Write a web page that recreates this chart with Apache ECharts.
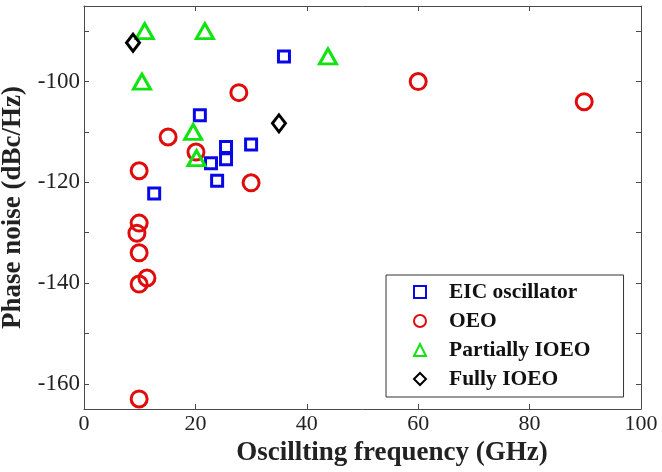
<!DOCTYPE html>
<html>
<head>
<meta charset="utf-8">
<script src="https://cdn.jsdelivr.net/npm/echarts@6/dist/echarts.min.js"></script>
<style>html,body{margin:0;padding:0;background:#fff;}#c{width:662px;height:472px;}</style>
</head>
<body>
<div id="c"></div>
<script>
const xTicks = [0, 20, 40, 60, 80, 100];
const yTickMarks = [-160, -150, -140, -130, -120, -110, -100, -90];
const yTickLabels = [-160, -140, -120, -100];

const eicOscillator = [[35.9, -95], [20.8, -106.7], [25.5, -113], [25.5, -115.4], [22.8, -116.2], [30, -112.5], [23.9, -119.7], [12.6, -122.2]];
const oeo = [[27.8, -102.2], [15.1, -111], [20.1, -114], [9.9, -117.7], [30, -120.1], [60, -100], [89.8, -104], [9.9, -128.1], [9.5, -130.1], [9.9, -134], [11.3, -139], [9.9, -140.2], [9.9, -163]];
const partiallyIOEO = [[10.9, -90], [21.7, -90], [43.8, -95], [10.4, -100], [19.6, -110], [20.2, -115.2]];
const fullyIOEO = [[8.8, -92.3], [35, -108.3]];

const serif = '"Liberation Serif", "Times New Roman", serif';
const axisColor = '#4a4a4a';

const chart = echarts.init(document.getElementById('c'));
function mk(name, data, symbol, size, color) {
  return {
    name, type: 'scatter', data, symbol, symbolSize: size,
    itemStyle: { color: 'rgba(0,0,0,0)', borderColor: color, borderWidth: 3, opacity: 1 },
    emphasis: { disabled: true }
  };
}
chart.setOption({
  animation: false,
  backgroundColor: '#fff',
  grid: { left: 84, right: 21, top: 6, bottom: 63, containLabel: false, outerBoundsMode: 'none' },
  legend: {
    orient: 'vertical', left: 386, top: 275,
    padding: [6, 33, 7, 27],
    borderColor: '#333', borderWidth: 1, backgroundColor: '#fff',
    itemWidth: 12, itemHeight: 12, itemGap: 7,
    textStyle: { fontFamily: serif, fontWeight: 'bold', fontSize: 21.5, color: '#111', lineHeight: 21, padding: [0, 0, 0, 18] },
    data: ['EIC oscillator', 'OEO', 'Partially IOEO', 'Fully IOEO']
  },
  xAxis: [{
    type: 'value', min: 0, max: 100, interval: 20,
    name: 'Oscillting frequency (GHz)', nameLocation: 'middle', nameGap: 23,
    nameTextStyle: { fontFamily: serif, fontWeight: 'bold', fontSize: 27, color: '#222', padding: [0, 0, 0, 59] },
    axisLine: { show: true, lineStyle: { color: axisColor, width: 1 } },
    axisTick: { show: true, inside: true, length: 5, lineStyle: { color: axisColor } },
    axisLabel: { fontFamily: serif, fontSize: 22, color: '#222', margin: 4 },
    splitLine: { show: false }
  }, {
    type: 'value', min: 0, max: 100, interval: 20, position: 'top',
    axisLine: { show: true, onZero: false, lineStyle: { color: axisColor, width: 1 } },
    axisTick: { show: true, inside: true, length: 5, lineStyle: { color: axisColor } },
    axisLabel: { show: false }, splitLine: { show: false }
  }],
  yAxis: [{
    type: 'value', min: -165, max: -85,
    name: 'Phase noise (dBc/Hz)', nameLocation: 'middle', nameGap: 54,
    nameTextStyle: { fontFamily: serif, fontWeight: 'bold', fontSize: 27, color: '#222' },
    axisLine: { show: true, onZero: false, lineStyle: { color: axisColor, width: 1 } },
    axisTick: { show: true, inside: true, length: 5, lineStyle: { color: axisColor }, customValues: yTickMarks },
    axisLabel: { fontFamily: serif, fontSize: 23, color: '#222', margin: 4, customValues: yTickLabels },
    splitLine: { show: false }
  }, {
    type: 'value', min: -165, max: -85, position: 'right',
    axisLine: { show: true, onZero: false, lineStyle: { color: axisColor, width: 1 } },
    axisTick: { show: true, inside: true, length: 5, lineStyle: { color: axisColor }, customValues: yTickMarks },
    axisLabel: { show: false }, splitLine: { show: false }
  }],
  series: [
    mk('EIC oscillator', eicOscillator, 'rect', 11, '#0808e6'),
    mk('OEO', oeo, 'circle', 16, '#e00c0c'),
    mk('Partially IOEO', partiallyIOEO, 'triangle', [17, 15], '#10e410'),
    mk('Fully IOEO', fullyIOEO, 'diamond', [13, 17], '#000')
  ]
});
</script>
</body>
</html>
